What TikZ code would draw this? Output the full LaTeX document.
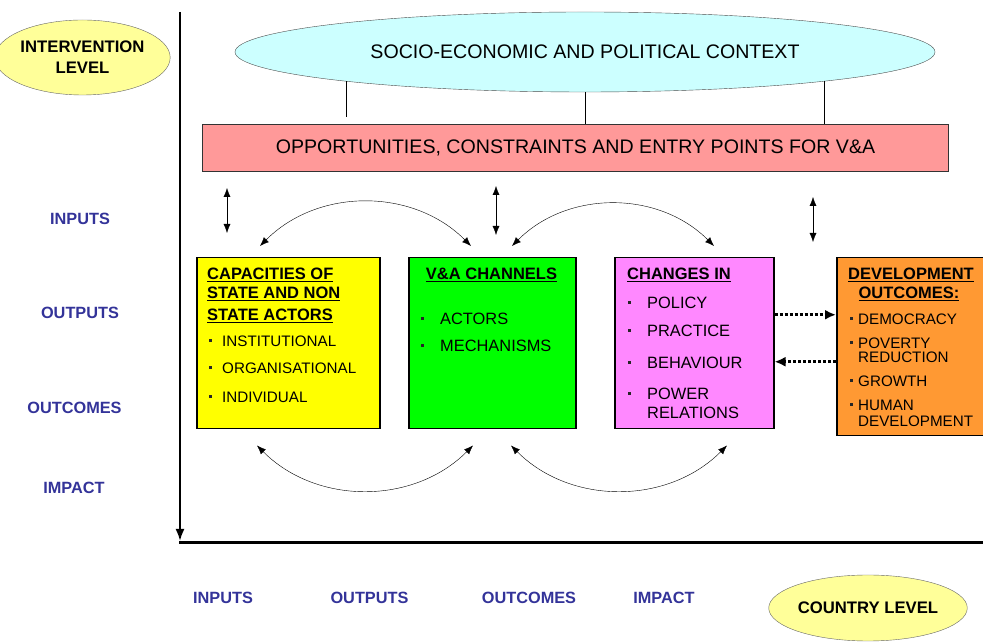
\documentclass[tikz,border=0pt]{standalone}
\usepackage{fontspec}
\setmainfont{Liberation Sans}
\usepackage{xcolor}
\usetikzlibrary{arrows.meta, positioning, shapes.geometric}

\definecolor{lvlyellow}{HTML}{FFFF99}
\definecolor{ctxcyan}{HTML}{CCFFFF}
\definecolor{oppred}{HTML}{FF9999}
\definecolor{capyellow}{HTML}{FFFF00}
\definecolor{chngreen}{HTML}{00FF00}
\definecolor{chgpink}{HTML}{FF88FF}
\definecolor{devorange}{HTML}{FF9933}
\definecolor{lvlblue}{HTML}{333399}

\begin{document}
\begin{tikzpicture}[x=1pt,y=1pt,>={Latex[length=9pt,width=7pt]}]
  \tikzstyle{level}=[ellipse,draw=black!60,fill=lvlyellow,inner sep=0pt,align=center,font=\fontsize{16.7}{21}\selectfont\bfseries]
  \tikzstyle{scale label}=[text=lvlblue,inner sep=0pt,font=\fontsize{16.3}{18}\selectfont\bfseries]
  \tikzstyle{box}=[draw,line width=1.5pt,anchor=north west,inner sep=0pt,minimum height=171]
  \tikzstyle{head}=[anchor=base west,inner sep=0pt,font=\fontsize{16.5}{18}\selectfont\bfseries]
  \tikzstyle{item}=[anchor=base west,inner sep=0pt,font=\fontsize{15.2}{16}\selectfont]
  \tikzstyle{big item}=[item,font=\fontsize{16.4}{18}\selectfont]
  \tikzstyle{bullet}=[rectangle,fill=black!85,inner sep=0pt,minimum size=3pt]
  \tikzstyle{feedback}=[dotted,line width=3pt,-{Latex[length=11pt,width=10pt]}]

  \useasboundingbox (0,0) rectangle (983,642);

  % axes
  \coordinate (axtop)   at (180,630);
  \coordinate (origin)  at (180,99);
  \coordinate (axright) at (983,99);
  \draw[-{Latex[length=12pt,width=9pt]},line width=2pt] (axtop) -- ([yshift=2]origin);
  \draw[line width=3pt] ([xshift=-1]origin) -- (axright);

  \node[level,minimum width=149,minimum height=75] (intlvl) at (82.5,584.5) {INTERVENTION\\LEVEL};
  \node[level,minimum width=192,minimum height=66] (ctry)   at (868,34)     {COUNTRY LEVEL};

  \node[scale label] (in_y)  at (80,423)  {INPUTS};
  \node[scale label] (out_y) at (80,329)  {OUTPUTS};
  \node[scale label] (oc_y)  at (74.5,234) {OUTCOMES};
  \node[scale label] (im_y)  at (74,154)  {IMPACT};

  \node[scale label] (in_x)  at (223,44)   {INPUTS};
  \node[scale label] (out_x) at (369.5,44) {OUTPUTS};
  \node[scale label] (oc_x)  at (529,44)   {OUTCOMES};
  \node[scale label] (im_x)  at (664,44)   {IMPACT};

  % context
  \node[ellipse,draw=black!70,fill=ctxcyan,inner sep=0pt,minimum width=700,minimum height=80,
        font=\fontsize{19.6}{22}\selectfont] (ctx) at (585,590) {SOCIO-ECONOMIC AND POLITICAL CONTEXT};
  \node[draw=black!80,fill=oppred,inner sep=0pt,minimum width=746,minimum height=47,
        font=\fontsize{19.6}{22}\selectfont] (opp) at (575.5,494.5) {OPPORTUNITIES, CONSTRAINTS AND ENTRY POINTS FOR V\&A};

  \draw (ctx.187)   -- ([yshift=7]ctx.187 |- opp.north);
  \draw (ctx.south) -- (ctx.south |- opp.north);
  \draw (ctx.353)   -- (ctx.353 |- opp.north);

  \coordinate (v1a) at (227,454);
  \coordinate (v1b) at (227,409);
  \coordinate (v2a) at (496,456);
  \coordinate (v2b) at (496,407);
  \coordinate (v3a) at (813,445);
  \coordinate (v3b) at (813,400);
  \path[<->]
  (v1a) edge (v1b)
  (v2a) edge (v2b)
  (v3a) edge (v3b)
  ;

  % boxes
  \node[box,fill=capyellow,minimum width=183] (cap) at (196,385) {};
  \node[box,fill=chngreen,minimum width=167]  (chn) at (408,385) {};
  \node[box,fill=chgpink,minimum width=159]   (chg) at (614,385) {};
  \node[box,fill=devorange,minimum width=160,minimum height=178] (dev) at (836,385) {};

  \node[head] (caph1) at (207,362) {\underline{CAPACITIES OF}};
  \node[head] (caph2) at (207,343) {\underline{STATE AND NON}};
  \node[head] (caph3) at (207,321) {\underline{STATE ACTORS}};
  \node[bullet] (capb1) at (210,301)   {};
  \node[item]   (capi1) at (222,295.5) {INSTITUTIONAL};
  \node[bullet] (capb2) at (210,274)   {};
  \node[item]   (capi2) at (222,268.5) {ORGANISATIONAL};
  \node[bullet] (capb3) at (210,245)   {};
  \node[item]   (capi3) at (222,239.5) {INDIVIDUAL};

  \node[head,anchor=base] (chnh) at (491.5,362) {\underline{V\&A CHANNELS}};
  \node[bullet]   (chnb1) at (422,323) {};
  \node[big item] (chni1) at (440,317) {ACTORS};
  \node[bullet]   (chnb2) at (422,296) {};
  \node[big item] (chni2) at (440,290) {MECHANISMS};

  \node[head] (chgh) at (627,362) {\underline{CHANGES IN}};
  \node[bullet]   (chgb1) at (629,339) {};
  \node[big item] (chgi1) at (647,333) {POLICY};
  \node[bullet]   (chgb2) at (629,311) {};
  \node[big item] (chgi2) at (647,305) {PRACTICE};
  \node[bullet]   (chgb3) at (629,279) {};
  \node[big item] (chgi3) at (647,273) {BEHAVIOUR};
  \node[bullet]   (chgb4) at (629,248) {};
  \node[big item] (chgi4) at (647,242) {POWER};
  \node[big item] (chgi5) at (647,223) {RELATIONS};

  \node[head,anchor=base] (devh1) at (911,362) {\underline{DEVELOPMENT}};
  \node[head,anchor=base] (devh2) at (909,343) {\underline{OUTCOMES:}};
  \node[bullet] (devb1) at (851,323)   {};
  \node[item]   (devi1) at (858,317.5) {DEMOCRACY};
  \node[bullet] (devb2) at (851,299)   {};
  \node[item]   (devi2) at (858,293.5) {POVERTY};
  \node[item]   (devi3) at (858,279.5) {REDUCTION};
  \node[bullet] (devb3) at (851,261)   {};
  \node[item]   (devi4) at (858,255.5) {GROWTH};
  \node[bullet] (devb4) at (851,237)   {};
  \node[item]   (devi5) at (858,231.5) {HUMAN};
  \node[item]   (devi6) at (858,215.5) {DEVELOPMENT};

  % links between boxes
  \path[<->]
  ([shift={(64,11)}]cap.north west)  edge [bend left=45]  ([shift={(63,11)}]chn.north west)
  ([shift={(104,11)}]chn.north west) edge [bend left=45]  ([shift={(100,11)}]chg.north west)
  ([shift={(61,-16)}]cap.south west) edge [bend right=45] ([shift={(65,-16)}]chn.south west)
  ([shift={(103,-16)}]chn.south west) edge [bend right=45] ([shift={(113,-16)}]chg.south west)
  ;

  \draw[feedback] ([yshift=28.5]chg.east) -- ([yshift=28.5]chg.east -| dev.west);
  \draw[feedback] ([yshift=-18.5]chg.east -| dev.west) -- ([yshift=-18.5]chg.east);
\end{tikzpicture}
\end{document}
